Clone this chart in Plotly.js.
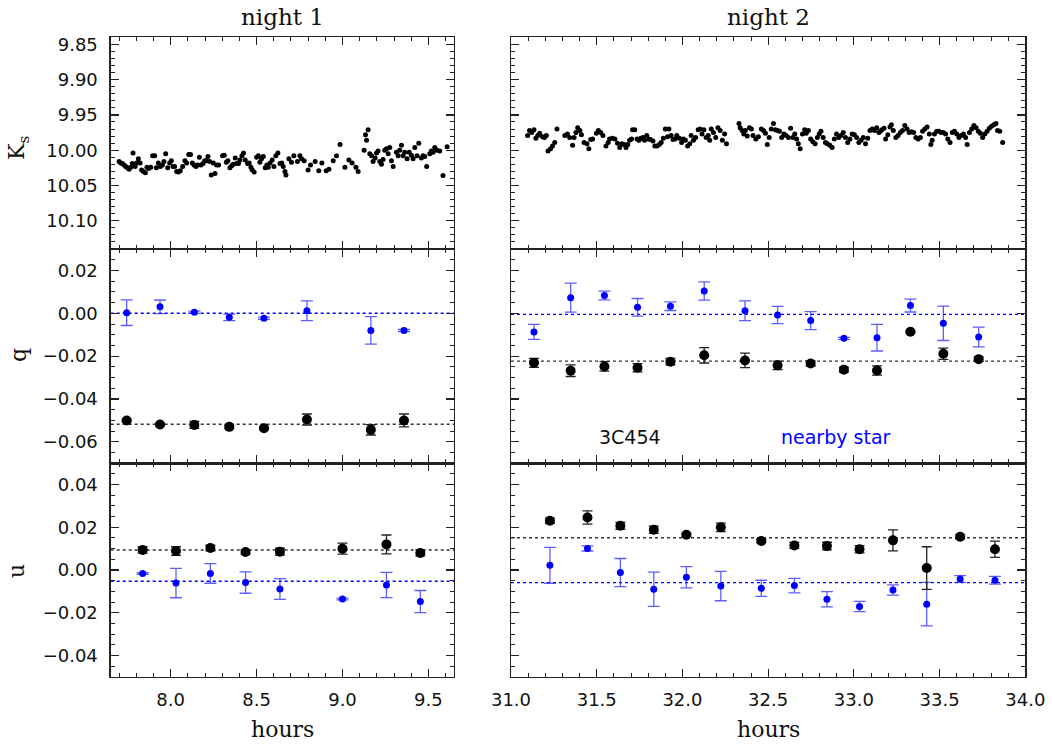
<!DOCTYPE html>
<html>
<head>
<meta charset="utf-8">
<script src="https://cdn.plot.ly/plotly-3.0.1.min.js"></script>
<style>html,body{margin:0;padding:0;background:#fff;}#chart{width:1052px;height:744px;}</style>
</head>
<body>
<div id="chart"></div>
<script>
// ---------- Ks light curves ----------
const ksHours1 = [7.700,7.709,7.719,7.729,7.738,7.748,7.758,7.767,7.777,7.781,
7.793,7.802,7.812,7.822,7.831,7.841,7.853,7.862,7.872,7.884,
7.895,7.907,7.917,7.928,7.940,7.952,7.961,7.971,7.983,7.994,
8.004,8.014,8.023,8.035,8.045,8.056,8.070,8.083,8.093,8.105,
8.116,8.126,8.136,8.147,8.157,8.167,8.176,8.188,8.198,8.207,
8.217,8.227,8.236,8.248,8.258,8.267,8.279,8.302,8.312,8.324,
8.333,8.345,8.355,8.364,8.376,8.384,8.395,8.403,8.415,8.424,
8.434,8.448,8.457,8.467,8.475,8.486,8.500,8.510,8.519,8.529,
8.539,8.550,8.560,8.568,8.579,8.591,8.601,8.612,8.624,8.636,
8.647,8.655,8.665,8.671,8.688,8.703,8.717,8.738,8.752,8.762,
8.777,8.800,8.814,8.841,8.862,8.880,8.905,8.921,8.946,8.965,
8.986,9.014,9.037,9.056,9.078,9.091,9.126,9.134,9.140,9.149,
9.159,9.169,9.178,9.190,9.198,9.207,9.217,9.227,9.236,9.246,
9.256,9.266,9.275,9.285,9.295,9.314,9.324,9.333,9.343,9.353,
9.362,9.376,9.388,9.401,9.411,9.421,9.434,9.444,9.459,9.469,
9.479,9.490,9.508,9.517,9.527,9.537,9.550,9.566,9.585,9.609];
const ksMag1 = [10.016,10.018,10.019,10.021,10.023,10.025,10.027,10.024,10.019,10.004,
10.023,10.018,10.012,10.018,10.028,10.030,10.032,10.024,10.026,10.024,
10.008,10.008,10.025,10.018,10.023,10.021,10.016,10.005,10.025,10.018,
10.015,10.023,10.023,10.030,10.031,10.029,10.023,10.015,10.018,10.006,
10.006,10.018,10.021,10.023,10.021,10.010,10.021,10.019,10.015,10.015,
10.009,10.016,10.035,10.018,10.033,10.021,10.021,10.008,10.007,10.017,
10.015,10.025,10.022,10.020,10.011,10.019,10.019,10.014,10.008,10.004,
10.014,10.019,10.018,10.024,10.028,10.031,10.010,10.008,10.017,10.012,
10.009,10.025,10.021,10.024,10.018,10.014,10.023,10.008,10.004,10.019,
10.018,10.023,10.030,10.035,10.012,10.017,10.008,10.016,10.008,10.012,
10.015,10.028,10.021,10.016,10.029,10.018,10.029,10.027,10.015,10.008,
9.992,10.024,10.014,10.018,10.024,10.030,10.000,9.978,9.986,9.971,
10.005,10.008,10.016,10.011,10.004,10.001,10.016,10.020,10.013,10.000,
9.998,10.005,9.996,10.015,10.023,10.003,10.008,10.000,9.993,10.008,
10.003,10.012,10.003,10.007,10.012,9.996,10.008,9.990,10.011,10.008,
10.009,10.023,10.005,10.001,10.003,9.996,10.000,10.001,10.036,9.995];

const ksHours2 = [31.097,31.108,31.121,31.134,31.145,31.156,31.167,31.184,31.195,31.206,
31.216,31.231,31.242,31.255,31.268,31.314,31.329,31.342,31.359,31.368,
31.379,31.389,31.402,31.411,31.426,31.443,31.454,31.465,31.476,31.498,
31.510,31.523,31.536,31.554,31.567,31.575,31.591,31.606,31.621,31.634,
31.647,31.660,31.671,31.681,31.692,31.703,31.709,31.722,31.735,31.746,
31.757,31.770,31.779,31.792,31.803,31.813,31.828,31.839,31.852,31.865,
31.876,31.889,31.900,31.913,31.921,31.934,31.945,31.956,31.967,31.982,
31.995,32.006,32.017,32.030,32.043,32.051,32.064,32.077,32.092,32.103,
32.114,32.125,32.138,32.151,32.159,32.168,32.181,32.194,32.207,32.220,
32.233,32.246,32.257,32.330,32.337,32.348,32.358,32.367,32.378,32.391,
32.402,32.412,32.428,32.443,32.460,32.473,32.484,32.495,32.506,32.518,
32.531,32.542,32.555,32.566,32.579,32.592,32.605,32.618,32.631,32.644,
32.655,32.666,32.676,32.687,32.700,32.713,32.722,32.735,32.748,32.761,
32.774,32.787,32.798,32.808,32.821,32.834,32.845,32.860,32.873,32.886,
32.899,32.912,32.925,32.938,32.951,32.964,32.977,32.990,33.003,33.016,
33.029,33.042,33.055,33.068,33.081,33.094,33.107,33.120,33.133,33.146,
33.154,33.163,33.176,33.185,33.198,33.211,33.219,33.230,33.245,33.258,
33.271,33.284,33.297,33.310,33.323,33.336,33.349,33.362,33.375,33.388,
33.401,33.414,33.427,33.440,33.449,33.457,33.470,33.483,33.496,33.509,
33.522,33.535,33.548,33.561,33.574,33.587,33.600,33.613,33.626,33.639,
33.652,33.661,33.674,33.687,33.700,33.713,33.726,33.738,33.751,33.764,
33.777,33.790,33.803,33.816,33.829,33.838,33.851,33.868];
const ksMag2 = [9.979,9.972,9.975,9.971,9.983,9.979,9.976,9.981,9.982,9.979,
10.001,9.998,9.994,9.989,9.970,9.979,9.977,9.982,9.993,9.982,
9.975,9.968,9.972,9.978,9.989,9.991,9.998,9.985,9.984,9.976,
9.972,9.975,9.979,9.994,9.989,9.984,9.983,9.984,9.990,9.996,
9.991,9.992,9.996,9.992,9.986,9.984,9.971,9.971,9.984,9.986,
9.983,9.982,9.986,9.979,9.984,9.985,9.987,9.994,9.994,9.992,
9.989,9.983,9.970,9.981,9.970,9.979,9.985,9.984,9.979,9.983,
9.989,9.984,9.986,9.994,9.991,9.979,9.986,9.982,9.971,9.970,
9.977,9.971,9.982,9.979,9.986,9.970,9.975,9.982,9.968,9.972,
9.986,9.977,9.991,9.962,9.968,9.972,9.977,9.972,9.980,9.968,
9.970,9.979,9.984,9.981,9.970,9.972,9.976,9.992,9.982,9.970,
9.962,9.971,9.972,9.973,9.982,9.977,9.979,9.982,9.969,9.982,
9.977,9.984,9.991,9.998,9.977,9.971,9.976,9.972,9.984,9.988,
9.991,9.982,9.977,9.973,9.982,9.989,9.991,9.993,9.996,9.984,
9.977,9.982,9.979,9.975,9.982,9.989,9.984,9.977,9.978,9.982,
9.989,9.986,9.982,9.991,9.983,9.972,9.970,9.972,9.968,9.975,
9.973,9.971,9.969,9.984,9.978,9.967,9.964,9.972,9.982,9.979,
9.975,9.972,9.965,9.970,9.975,9.974,9.975,9.982,9.984,9.982,
9.973,9.970,9.967,9.977,9.992,9.986,9.977,9.973,9.973,9.975,
9.975,9.977,9.984,9.989,9.975,9.973,9.977,9.982,9.979,9.977,
9.982,9.992,9.975,9.970,9.965,9.968,9.973,9.976,9.982,9.977,
9.973,9.969,9.966,9.964,9.962,9.972,9.973,9.989];

// ---------- q, night 1 ----------
const qHours1 = [7.744,7.938,8.138,8.341,8.543,8.793,9.165,9.358];
const qSrc1 = [-0.0500,-0.0519,-0.0521,-0.0530,-0.0536,-0.0496,-0.0544,-0.0500];
const qSrcErr1 = [0.0005,0.0005,0.0016,0.0008,0.0005,0.0026,0.0024,0.0030];
const qStar1 = [0.0003,0.0030,0.0005,-0.0019,-0.0023,0.0012,-0.0080,-0.0080];
const qStarErr1 = [0.0060,0.0032,0.0005,0.0015,0.0005,0.0046,0.0064,0.0005];
const qSrcMean1 = -0.0518, qStarMean1 = 0.0;

// ---------- q, night 2 ----------
const qHours2 = [31.134,31.348,31.545,31.738,31.930,32.127,32.365,32.555,32.748,32.942,33.135,33.330,33.522,33.728];
const qSrc2 = [-0.0231,-0.0268,-0.0248,-0.0254,-0.0226,-0.0196,-0.0220,-0.0243,-0.0234,-0.0263,-0.0267,-0.0086,-0.0189,-0.0214];
const qSrcErr2 = [0.0021,0.0027,0.0022,0.0019,0.0015,0.0036,0.0034,0.0020,0.0012,0.0012,0.0022,0.0005,0.0026,0.0010];
const qStar2 = [-0.0087,0.0073,0.0083,0.0028,0.0033,0.0104,0.0012,-0.0008,-0.0034,-0.0117,-0.0114,0.0036,-0.0047,-0.0111];
const qStarErr2 = [0.0035,0.0068,0.0020,0.0041,0.0020,0.0043,0.0046,0.0040,0.0042,0.0005,0.0062,0.0030,0.0080,0.0046];
const qSrcMean2 = -0.0223, qStarMean2 = -0.0005;

// ---------- u, night 1 ----------
const uHours1 = [7.837,8.031,8.231,8.436,8.636,9.000,9.256,9.453];
const uSrc1 = [0.0094,0.0089,0.0103,0.0084,0.0086,0.0100,0.0120,0.0080];
const uSrcErr1 = [0.0015,0.0020,0.0013,0.0010,0.0016,0.0026,0.0044,0.0014];
const uStar1 = [-0.0016,-0.0061,-0.0016,-0.0059,-0.0089,-0.0136,-0.0070,-0.0148];
const uStarErr1 = [0.0004,0.0069,0.0046,0.0050,0.0049,0.0004,0.0059,0.0052];
const uSrcMean1 = 0.0094, uStarMean1 = -0.0053;

// ---------- u, night 2 ----------
const uHours2 = [31.227,31.446,31.638,31.833,32.023,32.224,32.460,32.653,32.843,33.033,33.228,33.425,33.620,33.823];
const uSrc2 = [0.0231,0.0246,0.0207,0.0189,0.0165,0.0200,0.0136,0.0115,0.0112,0.0097,0.0139,0.0009,0.0156,0.0097];
const uSrcErr2 = [0.0012,0.0031,0.0016,0.0017,0.0007,0.0020,0.0008,0.0014,0.0018,0.0017,0.0049,0.0100,0.0010,0.0038];
const uStar2 = [0.0022,0.0101,-0.0012,-0.0090,-0.0034,-0.0075,-0.0086,-0.0073,-0.0137,-0.0171,-0.0094,-0.0160,-0.0042,-0.0048];
const uStarErr2 = [0.0084,0.0012,0.0066,0.0080,0.0050,0.0069,0.0038,0.0034,0.0036,0.0024,0.0024,0.0102,0.0016,0.0018];
const uSrcMean2 = 0.0151, uStarMean2 = -0.0059;

// ---------- labels ----------
const nightTitles = ['night 1','night 2'];
const xTitle = 'hours';
const yTitles = ['K<sub>s</sub>','q','u'];
const legendLabels = ['3C454','nearby star'];

// ---------- styling ----------
const BLUE = '#0000ff', BLUE_ERR = 'rgba(40,40,255,0.75)', BLACK = '#000000', BLACK_ERR = '#222222';
const tickFont = {family:'DejaVu Sans, sans-serif', size:18, color:'#111'};
const serif = 'DejaVu Serif, serif';

function errTrace(x, y, err, xa, ya, color, ecolor, size, cap){
  return {x:x, y:y, xaxis:xa, yaxis:ya, type:'scatter', mode:'markers',
    marker:{color:color, size:size},
    error_y:{type:'data', array:err, visible:true, color:ecolor, thickness:1.3, width:cap},
    hoverinfo:'skip'};
}
function dotsTrace(x, y, xa, ya){
  return {x:x, y:y, xaxis:xa, yaxis:ya, type:'scatter', mode:'markers',
    marker:{color:BLACK, size:5}, hoverinfo:'skip'};
}

const traces = [
  dotsTrace(ksHours1, ksMag1, 'x', 'y'),
  dotsTrace(ksHours2, ksMag2, 'x2', 'y2'),
  errTrace(qHours1, qStar1, qStarErr1, 'x3', 'y3', BLUE, BLUE_ERR, 7, 6),
  errTrace(qHours1, qSrc1, qSrcErr1, 'x3', 'y3', BLACK, BLACK_ERR, 10, 5),
  errTrace(qHours2, qStar2, qStarErr2, 'x4', 'y4', BLUE, BLUE_ERR, 7, 6),
  errTrace(qHours2, qSrc2, qSrcErr2, 'x4', 'y4', BLACK, BLACK_ERR, 10, 5),
  errTrace(uHours1, uStar1, uStarErr1, 'x5', 'y5', BLUE, BLUE_ERR, 7, 6),
  errTrace(uHours1, uSrc1, uSrcErr1, 'x5', 'y5', BLACK, BLACK_ERR, 10, 5),
  errTrace(uHours2, uStar2, uStarErr2, 'x6', 'y6', BLUE, BLUE_ERR, 7, 6),
  errTrace(uHours2, uSrc2, uSrcErr2, 'x6', 'y6', BLACK, BLACK_ERR, 10, 5)
];

const W = 1052, H = 744;
const xL = [110.7/W, 454/W], xR = [511/W, 1025.3/W];
const yTop = [1-249/H, 1-37.3/H], yMid = [1-463.3/H, 1-249/H], yBot = [1-676.7/H, 1-463.3/H];

function xAxis(domain, range, anchor, labels){
  return {domain:domain, range:range, anchor:anchor, showgrid:false, zeroline:false,
    showline:true, linecolor:'#222', linewidth:1.3, mirror:'allticks',
    ticks:'inside', ticklen:8, tickwidth:1.2, tickcolor:'#222', dtick:0.5, tick0:0,
    tickformat:'.1f', showticklabels:labels, tickfont:tickFont, ticklabelstandoff:6,
    minor:{ticks:'inside', ticklen:4, dtick:0.1, tick0:0, tickcolor:'#222', tickwidth:1, showgrid:false},
    fixedrange:true};
}
function yAxis(domain, range, anchor, labels, dtick, minor, fmt){
  return {domain:domain, range:range, anchor:anchor, showgrid:false, zeroline:false,
    showline:true, linecolor:'#222', linewidth:1.3, mirror:'allticks',
    ticks:'inside', ticklen:8, tickwidth:1.2, tickcolor:'#222', dtick:dtick, tick0:0,
    tickformat:fmt, showticklabels:labels, tickfont:tickFont, ticklabelstandoff:8,
    minor:{ticks:'inside', ticklen:4, dtick:minor, tick0:0, tickcolor:'#222', tickwidth:1, showgrid:false},
    fixedrange:true};
}

function meanLine(xref, yref, val, color){
  return {type:'line', xref:xref+' domain', yref:yref, x0:0, x1:1, y0:val, y1:val,
    line:{color:color, width:1.4, dash:'dot'}, layer:'below'};
}

function ann(text, x, y, font, extra){
  return Object.assign({text:text, x:x/W, y:1-y/H, xref:'paper', yref:'paper',
    showarrow:false, xanchor:'center', yanchor:'middle', font:font}, extra||{});
}

const layout = {
  width:W, height:H, autosize:false, margin:{l:0,r:0,t:0,b:0},
  paper_bgcolor:'#fff', plot_bgcolor:'#fff', showlegend:false, hovermode:false,
  xaxis: xAxis(xL, [7.651, 9.649], 'y', false),
  xaxis2: xAxis(xR, [31, 34], 'y2', false),
  xaxis3: xAxis(xL, [7.651, 9.649], 'y3', false),
  xaxis4: xAxis(xR, [31, 34], 'y4', false),
  xaxis5: xAxis(xL, [7.651, 9.649], 'y5', true),
  xaxis6: xAxis(xR, [31, 34], 'y6', true),
  yaxis: yAxis(yTop, [10.14, 9.84], 'x', true, 0.05, 0.01, '.2f'),
  yaxis2: yAxis(yTop, [10.14, 9.84], 'x2', false, 0.05, 0.01, '.2f'),
  yaxis3: yAxis(yMid, [-0.07, 0.03], 'x3', true, 0.02, 0.005, '.2f'),
  yaxis4: yAxis(yMid, [-0.07, 0.03], 'x4', false, 0.02, 0.005, '.2f'),
  yaxis5: yAxis(yBot, [-0.05, 0.05], 'x5', true, 0.02, 0.005, '.2f'),
  yaxis6: yAxis(yBot, [-0.05, 0.05], 'x6', false, 0.02, 0.005, '.2f'),
  shapes: [
    meanLine('x3','y3', qSrcMean1, '#333'), meanLine('x3','y3', qStarMean1, BLUE),
    meanLine('x4','y4', qSrcMean2, '#333'), meanLine('x4','y4', qStarMean2, BLUE),
    meanLine('x5','y5', uSrcMean1, '#333'), meanLine('x5','y5', uStarMean1, BLUE),
    meanLine('x6','y6', uSrcMean2, '#333'), meanLine('x6','y6', uStarMean2, BLUE)
  ],
  annotations: [
    ann(nightTitles[0], 282, 17, {family:serif, size:23, color:'#111'}),
    ann(nightTitles[1], 768, 17, {family:serif, size:23, color:'#111'}),
    ann(xTitle, 282, 729, {family:serif, size:22, color:'#111'}),
    ann(xTitle, 768, 729, {family:serif, size:22, color:'#111'}),
    ann(yTitles[0], 18, 148, {family:serif, size:22, color:'#111'}, {textangle:-90}),
    ann(yTitles[1], 18, 355, {family:serif, size:22, color:'#111'}, {textangle:-90}),
    ann(yTitles[2], 16, 571, {family:serif, size:22, color:'#111'}, {textangle:-90}),
    ann(legendLabels[0], 629.6, 437, {family:'DejaVu Sans, sans-serif', size:19, color:'#111'}),
    ann(legendLabels[1], 835.5, 437, {family:'DejaVu Sans, sans-serif', size:19, color:BLUE})
  ]
};

Plotly.newPlot('chart', traces, layout, {staticPlot:true, displayModeBar:false});
</script>
</body>
</html>
